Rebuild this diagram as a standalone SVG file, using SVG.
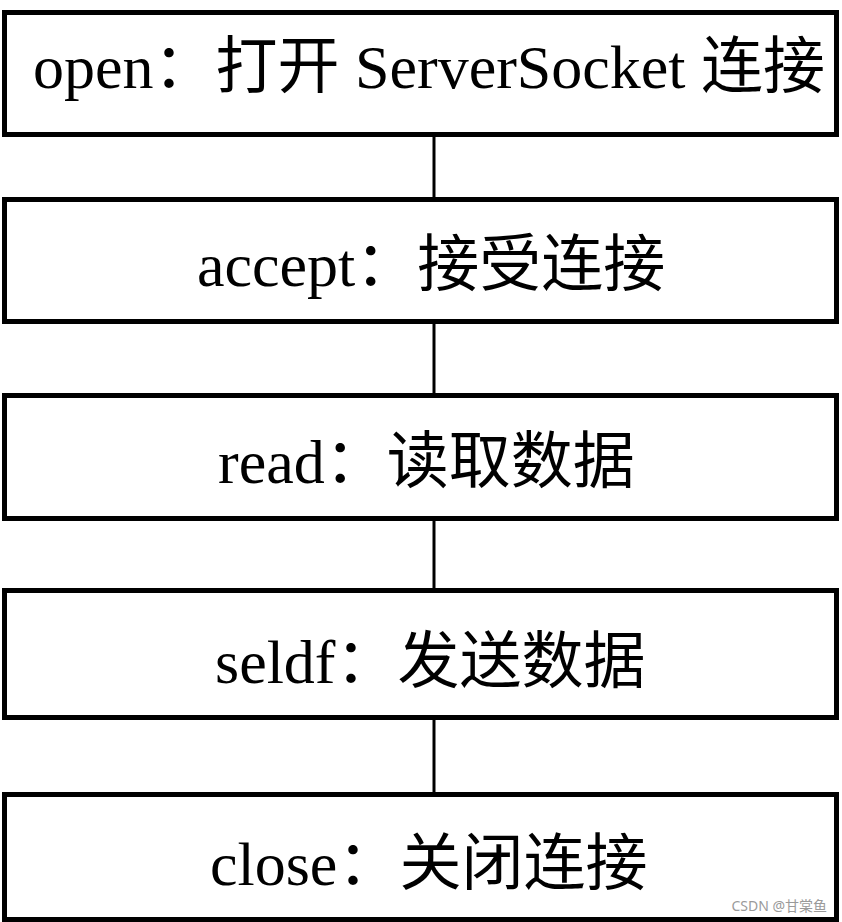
<svg xmlns="http://www.w3.org/2000/svg" width="842" height="922" viewBox="0 0 842 922">
  <style>
    .box { fill: #ffffff; stroke: #000000; stroke-width: 5; }
    .lbl { font-family: "Liberation Serif", "Noto Sans CJK SC", serif; font-size: 62px; fill: #000000; }
    .conn { stroke: #000000; stroke-width: 3; fill: none; }
    .wm { font-family: "Noto Sans", "Noto Sans CJK SC", sans-serif; font-size: 14px; fill: #9a9a9a; }
  </style>
  <rect x="0" y="0" width="842" height="922" fill="#ffffff"/>
  <g id="connectors">
    <line class="conn" x1="434" y1="137" x2="434" y2="197"/>
    <line class="conn" x1="434" y1="324" x2="434" y2="393"/>
    <line class="conn" x1="434" y1="521" x2="434" y2="588"/>
    <line class="conn" x1="434" y1="720" x2="434" y2="792"/>
  </g>
  <g id="open">
    <rect class="box" x="4.5" y="12.5" width="832" height="122"/>
    <text class="lbl" x="33" y="88">open：打开 ServerSocket 连接</text>
  </g>
  <g id="accept">
    <rect class="box" x="4.5" y="199.5" width="832" height="122"/>
    <text class="lbl" x="197" y="286">accept：接受连接</text>
  </g>
  <g id="read">
    <rect class="box" x="4.5" y="395.5" width="832" height="123"/>
    <text class="lbl" x="218" y="483">read：读取数据</text>
  </g>
  <g id="seldf">
    <rect class="box" x="4.5" y="590.5" width="832" height="127"/>
    <text class="lbl" x="215" y="683">seldf：发送数据</text>
  </g>
  <g id="close">
    <rect class="box" x="4.5" y="794.5" width="832" height="125"/>
    <text class="lbl" x="210" y="885">close：关闭连接</text>
  </g>
  <text class="wm" x="827" y="911" text-anchor="end">CSDN @甘棠鱼</text>
</svg>
